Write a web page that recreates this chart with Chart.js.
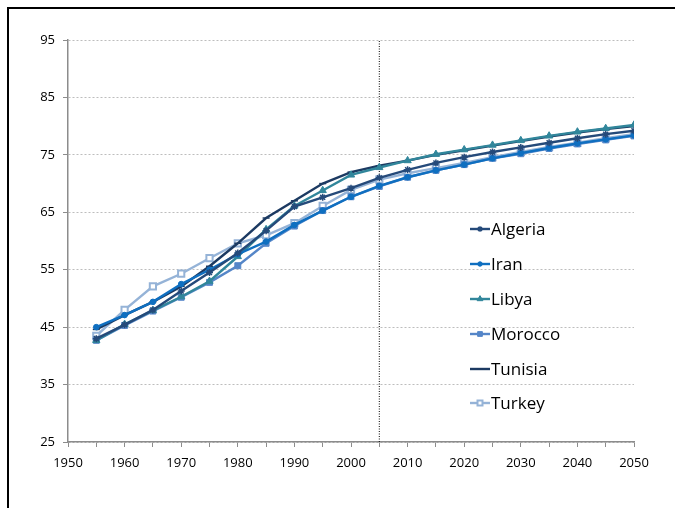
<!DOCTYPE html>
<html lang="en">
<head>
    <meta charset="UTF-8">
    <title>Life expectancy</title>
    <script src="https://cdn.jsdelivr.net/npm/chart.js"></script>
    <style>
        body { margin: 0; background: #fff; }
        .wrap { position: relative; width: 675px; height: 508px; overflow: hidden; }
        .frame { position: absolute; left: 7px; top: 7px; width: 720px; height: 560px;
                 border-left: 2px solid #000; border-top: 2px solid #000; }
        canvas { position: absolute; left: 0; top: 0; }
    </style>
</head>
<body>
<div class="wrap">
    <div class="frame"></div>
    <canvas id="chart" width="675" height="508"></canvas>
</div>
<script>
// years and values
const years = [1955, 1960, 1965, 1970, 1975, 1980, 1985, 1990, 1995, 2000,
               2005, 2010, 2015, 2020, 2025, 2030, 2035, 2040, 2045, 2050];
const algeria = [43.0, 45.4, 48.0, 51.3, 54.5, 57.9, 61.8, 66.0, 67.6, 69.2,
                 71.0, 72.4, 73.6, 74.6, 75.5, 76.3, 77.1, 77.9, 78.6, 79.2];
const iran    = [45.0, 47.1, 49.4, 52.5, 55.0, 57.7, 59.9, 62.8, 65.3, 67.7,
                 69.6, 71.1, 72.3, 73.3, 74.4, 75.3, 76.2, 77.0, 77.7, 78.4];
const libya   = [42.7, 45.5, 47.9, 50.3, 53.0, 57.3, 62.0, 66.1, 68.8, 71.5,
                 72.8, 74.0, 75.1, 75.9, 76.7, 77.5, 78.3, 79.0, 79.6, 80.2];
const morocco = [42.7, 45.3, 47.8, 50.2, 52.8, 55.7, 59.6, 62.6, 65.3, 67.7,
                 69.5, 71.1, 72.3, 73.3, 74.4, 75.2, 76.1, 76.9, 77.6, 78.3];
const tunisia = [44.6, 47.1, 49.4, 52.1, 55.6, 59.6, 64.0, 67.0, 70.0, 72.0,
                 73.1, 74.0, 75.0, 75.8, 76.6, 77.4, 78.2, 78.9, 79.5, 80.0];
const turkey  = [43.5, 48.0, 52.1, 54.3, 57.0, 59.6, 61.0, 63.1, 66.1, 68.9,
                 70.7, 71.8, 72.7, 73.6, 74.6, 75.5, 76.4, 77.1, 77.9, 78.6];
const markerYear = 2005;
const yRange = [25, 95];
const xRange = [1950, 2050];

const pts = arr => arr.map((v, i) => ({ x: years[i], y: v }));

function series(label, data, color, style, radius, bw, fill) {
    return {
        label: label,
        data: pts(data),
        borderColor: color,
        backgroundColor: fill || color,
        pointBorderColor: color,
        pointBackgroundColor: fill || color,
        pointStyle: style,
        pointRadius: radius,
        pointBorderWidth: bw,
        borderWidth: 2.4,
        tension: 0
    };
}

const datasets = [
    series('Algeria', algeria, '#254a7a', 'star', 3.5, 1.5),
    series('Iran', iran, '#0f6fc0', 'circle', 2.8, 1),
    series('Libya', libya, '#31869b', 'triangle', 4.2, 1),
    series('Morocco', morocco, '#5586c8', 'rect', 4.2, 1),
    series('Tunisia', tunisia, '#1c3a62', 'line', 3.5, 1.5),
    series('Turkey', turkey, '#95b3d7', 'rect', 4.4, 2, '#ffffff'),
    {
        label: '',
        data: [{ x: markerYear, y: yRange[0] }, { x: markerYear, y: yRange[1] }],
        borderColor: '#000',
        borderWidth: 1,
        borderDash: [1, 1.5],
        pointRadius: 0,
        hideLegend: true
    }
];

// legend drawn inside the plot, right hand side
const insideLegend = {
    id: 'insideLegend',
    afterDatasetsDraw(chart) {
        const ctx = chart.ctx;
        const rows = [229, 264, 299, 334, 369, 403];
        let r = 0;
        ctx.save();
        chart.data.datasets.forEach(ds => {
            if (ds.hideLegend) return;
            const y = rows[r++];
            ctx.strokeStyle = ds.borderColor;
            ctx.lineWidth = 2.4;
            ctx.setLineDash([]);
            ctx.beginPath();
            ctx.moveTo(470, y);
            ctx.lineTo(490, y);
            ctx.stroke();
            ctx.fillStyle = ds.pointBackgroundColor;
            ctx.strokeStyle = ds.pointBorderColor;
            ctx.lineWidth = ds.pointBorderWidth;
            Chart.helpers.drawPoint(ctx, {
                pointStyle: ds.pointStyle,
                radius: ds.pointRadius * 0.8,
                rotation: 0,
                borderWidth: ds.pointBorderWidth
            }, 480, y);
            ctx.fillStyle = '#000';
            ctx.font = '17px "Open Sans", sans-serif';
            ctx.textBaseline = 'middle';
            ctx.textAlign = 'left';
            ctx.fillText(ds.label, 491, y + 1);
        });
        ctx.restore();
    }
};

new Chart(document.getElementById('chart'), {
    type: 'line',
    data: { datasets: datasets },
    plugins: [insideLegend],
    options: {
        responsive: false,
        animation: false,
        layout: { padding: { left: 0, top: 40, right: 41, bottom: 0 } },
        plugins: {
            legend: { display: false },
            tooltip: { enabled: false }
        },
        scales: {
            x: {
                type: 'linear',
                min: xRange[0],
                max: xRange[1],
                afterFit: s => { s.height = 66; },
                ticks: {
                    stepSize: 5,
                    autoSkip: false,
                    maxRotation: 0,
                    padding: 8,
                    color: '#000',
                    font: { family: '"Open Sans", sans-serif', size: 13 },
                    callback: v => (v % 10 === 0 ? String(v) : '')
                },
                grid: {
                    drawOnChartArea: false,
                    tickLength: 5,
                    tickColor: '#8c8c8c'
                },
                border: { color: '#8c8c8c', width: 1.5 }
            },
            y: {
                min: yRange[0],
                max: yRange[1],
                afterFit: s => { s.width = 68; },
                ticks: {
                    stepSize: 10,
                    padding: 8,
                    color: '#000',
                    font: { family: '"Open Sans", sans-serif', size: 13 }
                },
                grid: {
                    color: '#bdbdbd',
                    tickLength: 5,
                    tickColor: '#8c8c8c',
                    tickBorderDash: []
                },
                border: { color: '#8c8c8c', width: 1.5, dash: [2, 2] }
            }
        }
    }
});
</script>
</body>
</html>
